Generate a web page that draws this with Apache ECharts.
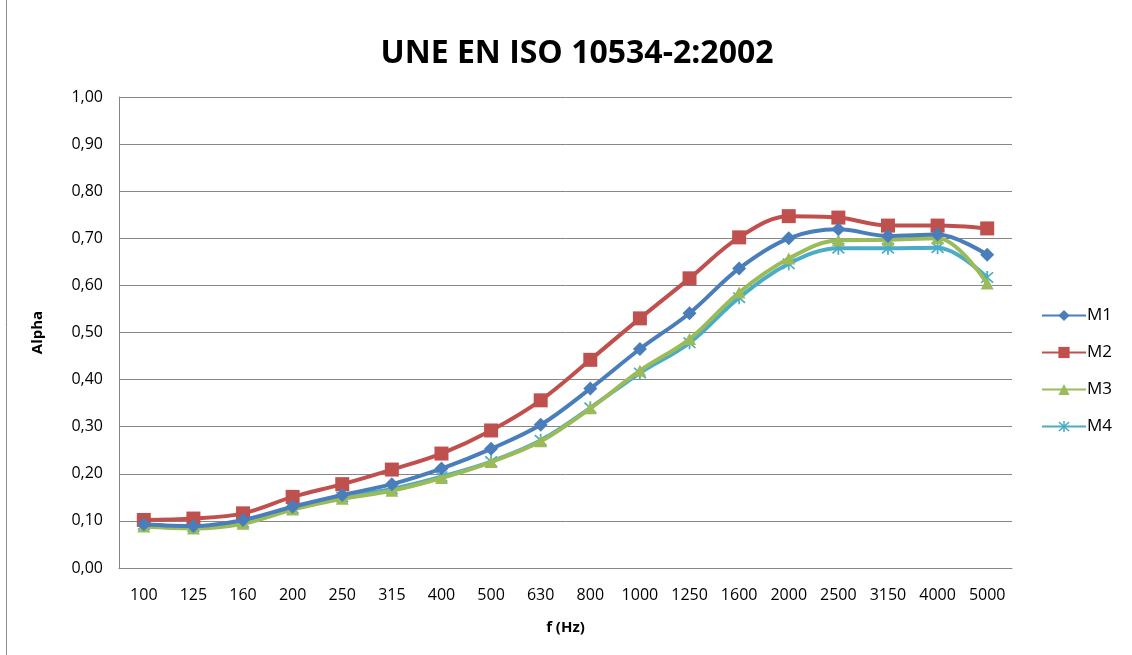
<!DOCTYPE html>
<html><head><meta charset="utf-8">
<script src="https://cdn.jsdelivr.net/npm/echarts@6/dist/echarts.min.js"></script>
<style>html,body{margin:0;padding:0;background:#fff}#c{width:1132px;height:655px}</style>
</head><body><div id="c"></div>
<script>
const categories = ['100','125','160','200','250','315','400','500','630','800','1000','1250','1600','2000','2500','3150','4000','5000'];
const m1 = [0.093,0.089,0.102,0.130,0.155,0.178,0.211,0.253,0.304,0.381,0.465,0.541,0.636,0.700,0.719,0.705,0.708,0.665];
const m2 = [0.102,0.105,0.116,0.151,0.178,0.209,0.243,0.292,0.356,0.442,0.530,0.615,0.702,0.747,0.744,0.727,0.727,0.721];
const m3 = [0.088,0.084,0.094,0.124,0.147,0.164,0.191,0.225,0.269,0.339,0.419,0.486,0.585,0.657,0.696,0.697,0.700,0.604];
const m4 = [0.092,0.088,0.097,0.127,0.151,0.168,0.194,0.226,0.271,0.340,0.414,0.478,0.574,0.646,0.679,0.679,0.680,0.617];
const seriesNames = ['M1','M2','M3','M4'];
const colors = ['#4A7EBB','#C0504D','#9BBB59','#4BACC6'];
const star = 'path://M4.4 0H5.6V10H4.4Z M1.42 0.58L9.42 8.58L8.58 9.42L0.58 1.42Z M8.58 0.58L9.42 1.42L1.42 9.42L0.58 8.58Z';
const symbols = ['diamond','rect','triangle',star];
const sizes = [[14,14],[14,14],[13,12],[13,13]];
const font = '"Open Sans", "Noto Sans", sans-serif';
const data = [m1,m2,m3,m4];

const chart = echarts.init(document.getElementById('c'));
chart.setOption({
  animation:false,
  color: colors,
  title:{text:'UNE EN ISO 10534-2:2002', left:572, top:33, textAlign:'center',
    textStyle:{fontFamily:font, fontSize:32, fontWeight:'bold', color:'#000'}},
  grid:{left:119, right:120, top:97, bottom:87},
  legend:{orient:'vertical', left:1036, top:302, itemWidth:44, itemHeight:14, itemGap:20,
    data:seriesNames,
    textStyle:{fontFamily:font, fontSize:17, color:'#000', padding:[0,0,0,-4]}},
  xAxis:{type:'category', data:categories, boundaryGap:true,
    name:'f (Hz)', nameLocation:'middle', nameGap:52,
    nameTextStyle:{fontFamily:font, fontSize:15, fontWeight:'bold', color:'#000'},
    axisLine:{lineStyle:{color:'#868686', width:1}},
    axisTick:{show:false},
    axisLabel:{fontFamily:font, fontSize:16, color:'#000', margin:19}},
  yAxis:{type:'value', min:0, max:1, interval:0.1,
    name:'Alpha', nameLocation:'middle', nameGap:74, nameRotate:90,
    nameTextStyle:{fontFamily:font, fontSize:15, fontWeight:'bold', color:'#000'},
    axisLine:{show:true, lineStyle:{color:'#868686', width:1}},
    axisTick:{show:false},
    splitLine:{lineStyle:{color:'#868686', width:1}},
    axisLabel:{fontFamily:font, fontSize:16, color:'#000', margin:16,
      formatter:v=>v.toFixed(2).replace('.',',')}},
  graphic:[{type:'line', shape:{x1:6.5,y1:0,x2:6.5,y2:655}, style:{stroke:'#8c8c8c', lineWidth:1}}],
  series: seriesNames.map((n,i)=>({
    name:n, type:'line', data:data[i], smooth:0.35,
    symbol:symbols[i], symbolSize:sizes[i], showSymbol:true,
    lineStyle:{width:4, color:colors[i]},
    itemStyle:{color:colors[i], borderWidth:0},
    z: 10-i
  }))
});
</script></body></html>
